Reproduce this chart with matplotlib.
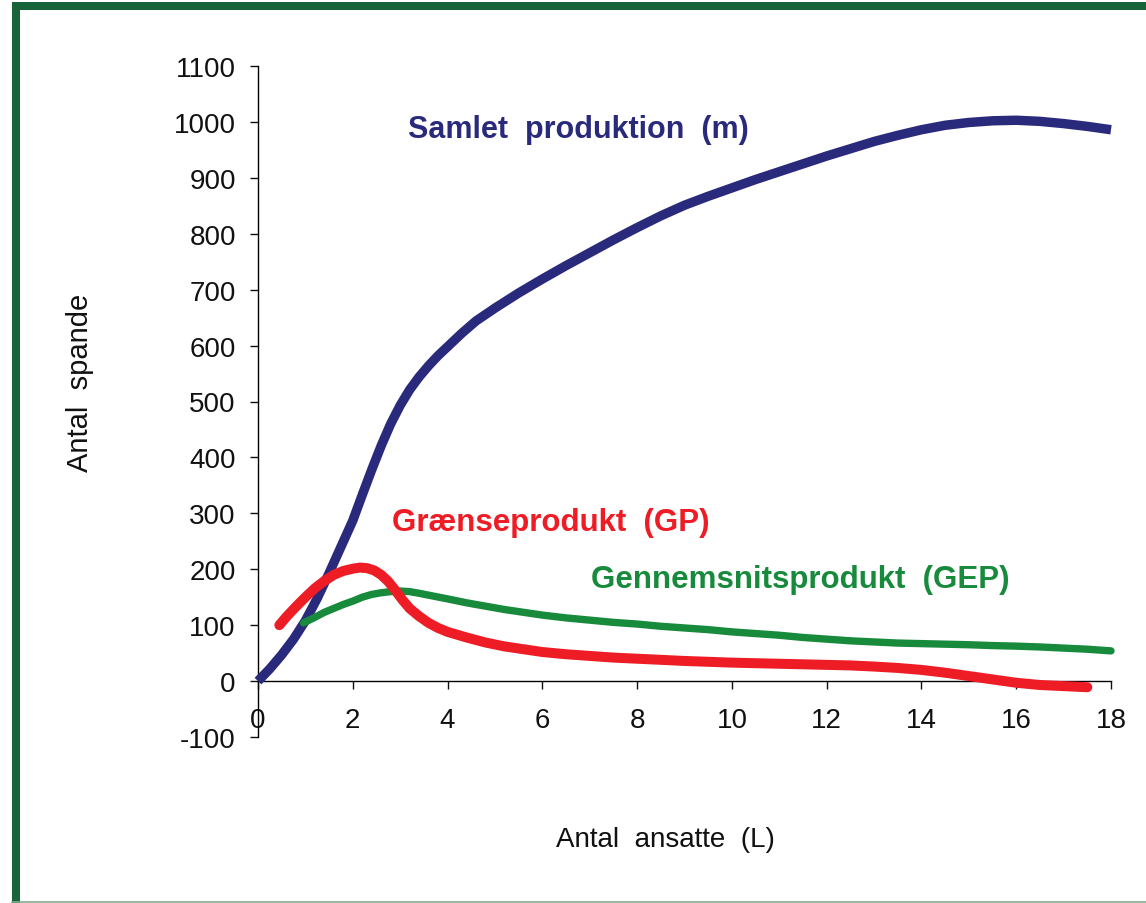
import matplotlib
matplotlib.use("Agg")
import matplotlib.pyplot as plt
from matplotlib.patches import Rectangle
from matplotlib.lines import Line2D

plt.rcParams['font.family'] = ['Liberation Sans', 'DejaVu Sans']

# Data
m_x = [0, 0.25, 0.5, 0.75, 1.0, 1.25, 1.5, 1.75, 2.0, 2.2, 2.4, 2.6, 2.8, 3.0, 3.2, 3.4, 3.6, 3.8,
       4.0, 4.3, 4.6, 5.0, 5.5, 6.0, 6.5, 7.0, 7.5, 8.0, 8.5, 9.0, 9.5, 10.0, 10.5, 11.0, 11.5,
       12.0, 12.5, 13.0, 13.5, 14.0, 14.5, 15.0, 15.5, 16.0, 16.5, 17.0, 17.5, 18.0]
m_y = [0, 22, 47, 75, 108, 148, 193, 240, 287, 333, 378, 421, 460, 493, 521, 544, 564, 582,
       598, 622, 644, 667, 694, 719, 743, 766, 789, 811, 832, 851, 867, 882, 897, 911, 925,
       939, 952, 965, 976, 986, 994, 999, 1002, 1003, 1001, 997, 992, 986]

gp_x = [0.45, 0.6, 0.8, 1.0, 1.2, 1.4, 1.6, 1.8, 2.0, 2.15, 2.3, 2.45, 2.6, 2.75, 2.9, 3.05, 3.2,
        3.4, 3.6, 3.8, 4.0, 4.4, 4.8, 5.2, 5.6, 6.0, 6.5, 7.0, 7.5, 8.0, 8.5, 9.0, 9.5, 10.0,
        11.0, 12.0, 12.5, 13.0, 13.5, 14.0, 14.5, 15.0, 15.5, 16.0, 16.5, 17.0, 17.5]
gp_y = [100, 115, 133, 150, 166, 179, 190, 197, 201, 203, 202, 198, 190, 178, 162, 145, 130,
        116, 104, 95, 88, 78, 69, 62, 57, 52, 48, 45, 42, 40, 38, 36, 34.5, 33,
        31, 29, 28, 26, 23.5, 20, 15, 9, 3, -3, -7, -9, -11]

gep_x = [0.96, 1.2, 1.4, 1.6, 1.8, 2.0, 2.2, 2.4, 2.6, 2.8, 3.0, 3.2, 3.4, 3.7, 4.0, 4.4, 4.8,
         5.2, 5.6, 6.0, 6.5, 7.0, 7.5, 8.0, 8.5, 9.0, 9.5, 10.0, 10.5, 11.0, 11.5, 12.0, 12.5,
         13.0, 13.5, 14.0, 14.5, 15.0, 15.5, 16.0, 16.5, 17.0, 17.5, 18.0]
gep_y = [104, 114, 123, 130, 137, 143, 150, 155, 158, 160, 161, 160, 157, 152, 147, 140, 134,
         128, 123, 118, 113, 109, 105, 102, 98, 95, 92, 88, 85, 82, 78, 75, 72,
         70, 68, 67, 66, 65, 63.5, 62.5, 61, 59, 57, 54]

x_ticks = [0, 2, 4, 6, 8, 10, 12, 14, 16, 18]
y_ticks = [-100, 0, 100, 200, 300, 400, 500, 600, 700, 800, 900, 1000, 1100]

navy = '#2A2A7C'
red = '#EE1C25'
green = '#178A3C'
border = '#17643A'

W, H = 1146, 904
fig = plt.figure(figsize=(W / 100, H / 100), dpi=100)
ax = fig.add_axes([258 / W, (H - 738) / H, (1111 - 258) / W, (738 - 67) / H])

ax.plot(m_x, m_y, color=navy, lw=6.8, solid_capstyle='butt', solid_joinstyle='round',
        clip_on=False, zorder=3)
ax.plot(gep_x, gep_y, color=green, lw=5.3, solid_capstyle='round', solid_joinstyle='round',
        clip_on=False, zorder=4)
ax.plot(gp_x, gp_y, color=red, lw=7.2, solid_capstyle='round', solid_joinstyle='round',
        clip_on=False, zorder=5)

ax.set_xlim(0, 18)
ax.set_ylim(-100, 1100)
ax.set_xticks(x_ticks)
ax.set_yticks(y_ticks)
ax.set_xticklabels([str(v) for v in x_ticks])
ax.set_yticklabels([str(v) for v in y_ticks])

for s in ['top', 'right']:
    ax.spines[s].set_visible(False)
ax.spines['bottom'].set_position(('data', 0))
ax.spines['left'].set_position(('data', 0))
ax.spines['left'].set_linewidth(1.0)
ax.spines['bottom'].set_linewidth(1.0)
ax.tick_params(axis='both', direction='out', length=6, width=1.0, labelsize=20, colors='#111111')
ax.tick_params(axis='x', pad=13)
ax.tick_params(axis='y', pad=10)

ax.text(6.77, 987, 'Samlet  produktion  (m)', color=navy, fontsize=22, fontweight='bold',
        ha='center', va='center')
ax.text(6.18, 284, 'Grænseprodukt  (GP)', color=red, fontsize=22.5, fontweight='bold',
        ha='center', va='center')
ax.text(11.44, 182, 'Gennemsnitsprodukt  (GEP)', color=green, fontsize=22.5, fontweight='bold',
        ha='center', va='center')

fig.text(665 / W, 1 - 840 / H, 'Antal  ansatte  (L)', fontsize=20, ha='center', va='center', color='#111111')
fig.text(80 / W, 1 - 383 / H, 'Antal  spande', fontsize=21, ha='center', va='center', rotation=90, color='#111111')

# green frame
fig.patches.append(Rectangle((12 / W, 0), 8 / W, 1 - 3 / H, transform=fig.transFigure,
                             facecolor=border, edgecolor='none'))
fig.patches.append(Rectangle((12 / W, 1 - 11 / H), 1 - 12 / W, 8 / H, transform=fig.transFigure,
                             facecolor=border, edgecolor='none'))
fig.lines.append(Line2D([12 / W, 1], [1.5 / H, 1.5 / H], transform=fig.transFigure,
                        color='#7FAE8B', lw=1.2))

fig.savefig('out.png', dpi=100)
